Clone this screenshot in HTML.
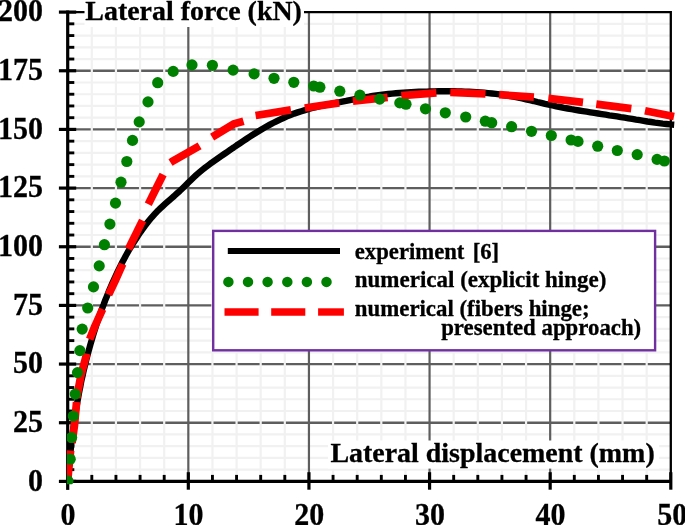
<!DOCTYPE html>
<html><head><meta charset="utf-8"><title>chart</title><style>html,body{margin:0;padding:0;background:#fff}</style></head><body>
<svg width="685" height="525" viewBox="0 0 685 525" style="display:block">
<rect x="0" y="0" width="685" height="525" fill="#fff"/>
<g stroke="#5e5e5e" stroke-width="2.3">
<line x1="67.7" x2="670.8" y1="422.74" y2="422.74"/>
<line x1="67.7" x2="670.8" y1="364.07" y2="364.07"/>
<line x1="67.7" x2="670.8" y1="305.41" y2="305.41"/>
<line x1="67.7" x2="670.8" y1="246.75" y2="246.75"/>
<line x1="67.7" x2="670.8" y1="188.09" y2="188.09"/>
<line x1="67.7" x2="670.8" y1="129.42" y2="129.42"/>
<line x1="67.7" x2="670.8" y1="70.76" y2="70.76"/>
</g>
<g stroke="#f1f1f1" stroke-width="2.2">
<line x1="67.7" x2="670.8" y1="469.67" y2="469.67"/>
<line x1="67.7" x2="670.8" y1="457.94" y2="457.94"/>
<line x1="67.7" x2="670.8" y1="446.20" y2="446.20"/>
<line x1="67.7" x2="670.8" y1="434.47" y2="434.47"/>
<line x1="67.7" x2="670.8" y1="411.00" y2="411.00"/>
<line x1="67.7" x2="670.8" y1="399.27" y2="399.27"/>
<line x1="67.7" x2="670.8" y1="387.54" y2="387.54"/>
<line x1="67.7" x2="670.8" y1="375.81" y2="375.81"/>
<line x1="67.7" x2="670.8" y1="352.34" y2="352.34"/>
<line x1="67.7" x2="670.8" y1="340.61" y2="340.61"/>
<line x1="67.7" x2="670.8" y1="328.88" y2="328.88"/>
<line x1="67.7" x2="670.8" y1="317.14" y2="317.14"/>
<line x1="67.7" x2="670.8" y1="293.68" y2="293.68"/>
<line x1="67.7" x2="670.8" y1="281.95" y2="281.95"/>
<line x1="67.7" x2="670.8" y1="270.22" y2="270.22"/>
<line x1="67.7" x2="670.8" y1="258.48" y2="258.48"/>
<line x1="67.7" x2="670.8" y1="235.02" y2="235.02"/>
<line x1="67.7" x2="670.8" y1="223.29" y2="223.29"/>
<line x1="67.7" x2="670.8" y1="211.55" y2="211.55"/>
<line x1="67.7" x2="670.8" y1="199.82" y2="199.82"/>
<line x1="67.7" x2="670.8" y1="176.36" y2="176.36"/>
<line x1="67.7" x2="670.8" y1="164.62" y2="164.62"/>
<line x1="67.7" x2="670.8" y1="152.89" y2="152.89"/>
<line x1="67.7" x2="670.8" y1="141.16" y2="141.16"/>
<line x1="67.7" x2="670.8" y1="117.69" y2="117.69"/>
<line x1="67.7" x2="670.8" y1="105.96" y2="105.96"/>
<line x1="67.7" x2="670.8" y1="94.23" y2="94.23"/>
<line x1="67.7" x2="670.8" y1="82.50" y2="82.50"/>
<line x1="67.7" x2="670.8" y1="59.03" y2="59.03"/>
<line x1="67.7" x2="670.8" y1="47.30" y2="47.30"/>
<line x1="67.7" x2="670.8" y1="35.57" y2="35.57"/>
<line x1="67.7" x2="670.8" y1="23.83" y2="23.83"/>
<line y1="481.4" y2="12.1" x1="91.82" x2="91.82"/>
<line y1="481.4" y2="12.1" x1="115.95" x2="115.95"/>
<line y1="481.4" y2="12.1" x1="140.07" x2="140.07"/>
<line y1="481.4" y2="12.1" x1="164.20" x2="164.20"/>
<line y1="481.4" y2="12.1" x1="212.44" x2="212.44"/>
<line y1="481.4" y2="12.1" x1="236.57" x2="236.57"/>
<line y1="481.4" y2="12.1" x1="260.69" x2="260.69"/>
<line y1="481.4" y2="12.1" x1="284.82" x2="284.82"/>
<line y1="481.4" y2="12.1" x1="333.06" x2="333.06"/>
<line y1="481.4" y2="12.1" x1="357.19" x2="357.19"/>
<line y1="481.4" y2="12.1" x1="381.31" x2="381.31"/>
<line y1="481.4" y2="12.1" x1="405.44" x2="405.44"/>
<line y1="481.4" y2="12.1" x1="453.68" x2="453.68"/>
<line y1="481.4" y2="12.1" x1="477.81" x2="477.81"/>
<line y1="481.4" y2="12.1" x1="501.93" x2="501.93"/>
<line y1="481.4" y2="12.1" x1="526.06" x2="526.06"/>
<line y1="481.4" y2="12.1" x1="574.30" x2="574.30"/>
<line y1="481.4" y2="12.1" x1="598.43" x2="598.43"/>
<line y1="481.4" y2="12.1" x1="622.55" x2="622.55"/>
<line y1="481.4" y2="12.1" x1="646.68" x2="646.68"/>
</g>
<g stroke="#5e5e5e" stroke-width="2.2">
<line y1="481.4" y2="12.1" x1="188.32" x2="188.32"/>
<line y1="481.4" y2="12.1" x1="308.94" x2="308.94"/>
<line y1="481.4" y2="12.1" x1="429.56" x2="429.56"/>
<line y1="481.4" y2="12.1" x1="550.18" x2="550.18"/>
</g>
<path d="M67.7 12.1 H670.8 V481.4" fill="none" stroke="#000" stroke-width="2.3"/>
<g stroke="#000">
<line x1="67.7" x2="67.7" y1="10.6" y2="482.9" stroke-width="3.2"/>
<line x1="66.2" x2="672.0" y1="481.4" y2="481.4" stroke-width="3.2"/>
<line x1="58.900000000000006" x2="76.2" y1="481.40" y2="481.40" stroke-width="3.2"/>
<line x1="67.7" x2="74.3" y1="469.67" y2="469.67" stroke-width="2.9"/>
<line x1="67.7" x2="74.3" y1="457.94" y2="457.94" stroke-width="2.9"/>
<line x1="67.7" x2="74.3" y1="446.20" y2="446.20" stroke-width="2.9"/>
<line x1="67.7" x2="74.3" y1="434.47" y2="434.47" stroke-width="2.9"/>
<line x1="58.900000000000006" x2="76.2" y1="422.74" y2="422.74" stroke-width="3.2"/>
<line x1="67.7" x2="74.3" y1="411.00" y2="411.00" stroke-width="2.9"/>
<line x1="67.7" x2="74.3" y1="399.27" y2="399.27" stroke-width="2.9"/>
<line x1="67.7" x2="74.3" y1="387.54" y2="387.54" stroke-width="2.9"/>
<line x1="67.7" x2="74.3" y1="375.81" y2="375.81" stroke-width="2.9"/>
<line x1="58.900000000000006" x2="76.2" y1="364.07" y2="364.07" stroke-width="3.2"/>
<line x1="67.7" x2="74.3" y1="352.34" y2="352.34" stroke-width="2.9"/>
<line x1="67.7" x2="74.3" y1="340.61" y2="340.61" stroke-width="2.9"/>
<line x1="67.7" x2="74.3" y1="328.88" y2="328.88" stroke-width="2.9"/>
<line x1="67.7" x2="74.3" y1="317.14" y2="317.14" stroke-width="2.9"/>
<line x1="58.900000000000006" x2="76.2" y1="305.41" y2="305.41" stroke-width="3.2"/>
<line x1="67.7" x2="74.3" y1="293.68" y2="293.68" stroke-width="2.9"/>
<line x1="67.7" x2="74.3" y1="281.95" y2="281.95" stroke-width="2.9"/>
<line x1="67.7" x2="74.3" y1="270.22" y2="270.22" stroke-width="2.9"/>
<line x1="67.7" x2="74.3" y1="258.48" y2="258.48" stroke-width="2.9"/>
<line x1="58.900000000000006" x2="76.2" y1="246.75" y2="246.75" stroke-width="3.2"/>
<line x1="67.7" x2="74.3" y1="235.02" y2="235.02" stroke-width="2.9"/>
<line x1="67.7" x2="74.3" y1="223.29" y2="223.29" stroke-width="2.9"/>
<line x1="67.7" x2="74.3" y1="211.55" y2="211.55" stroke-width="2.9"/>
<line x1="67.7" x2="74.3" y1="199.82" y2="199.82" stroke-width="2.9"/>
<line x1="58.900000000000006" x2="76.2" y1="188.09" y2="188.09" stroke-width="3.2"/>
<line x1="67.7" x2="74.3" y1="176.36" y2="176.36" stroke-width="2.9"/>
<line x1="67.7" x2="74.3" y1="164.62" y2="164.62" stroke-width="2.9"/>
<line x1="67.7" x2="74.3" y1="152.89" y2="152.89" stroke-width="2.9"/>
<line x1="67.7" x2="74.3" y1="141.16" y2="141.16" stroke-width="2.9"/>
<line x1="58.900000000000006" x2="76.2" y1="129.42" y2="129.42" stroke-width="3.2"/>
<line x1="67.7" x2="74.3" y1="117.69" y2="117.69" stroke-width="2.9"/>
<line x1="67.7" x2="74.3" y1="105.96" y2="105.96" stroke-width="2.9"/>
<line x1="67.7" x2="74.3" y1="94.23" y2="94.23" stroke-width="2.9"/>
<line x1="67.7" x2="74.3" y1="82.50" y2="82.50" stroke-width="2.9"/>
<line x1="58.900000000000006" x2="76.2" y1="70.76" y2="70.76" stroke-width="3.2"/>
<line x1="67.7" x2="74.3" y1="59.03" y2="59.03" stroke-width="2.9"/>
<line x1="67.7" x2="74.3" y1="47.30" y2="47.30" stroke-width="2.9"/>
<line x1="67.7" x2="74.3" y1="35.57" y2="35.57" stroke-width="2.9"/>
<line x1="67.7" x2="74.3" y1="23.83" y2="23.83" stroke-width="2.9"/>
<line x1="58.900000000000006" x2="76.2" y1="12.10" y2="12.10" stroke-width="3.2"/>
<line y1="481.4" y2="474.9" x1="91.82" x2="91.82" stroke-width="2.9"/>
<line y1="481.4" y2="474.9" x1="115.95" x2="115.95" stroke-width="2.9"/>
<line y1="481.4" y2="474.9" x1="140.07" x2="140.07" stroke-width="2.9"/>
<line y1="481.4" y2="474.9" x1="164.20" x2="164.20" stroke-width="2.9"/>
<line y1="472.2" y2="489.7" x1="188.32" x2="188.32" stroke-width="3.2"/>
<line y1="481.4" y2="474.9" x1="212.44" x2="212.44" stroke-width="2.9"/>
<line y1="481.4" y2="474.9" x1="236.57" x2="236.57" stroke-width="2.9"/>
<line y1="481.4" y2="474.9" x1="260.69" x2="260.69" stroke-width="2.9"/>
<line y1="481.4" y2="474.9" x1="284.82" x2="284.82" stroke-width="2.9"/>
<line y1="472.2" y2="489.7" x1="308.94" x2="308.94" stroke-width="3.2"/>
<line y1="481.4" y2="474.9" x1="333.06" x2="333.06" stroke-width="2.9"/>
<line y1="481.4" y2="474.9" x1="357.19" x2="357.19" stroke-width="2.9"/>
<line y1="481.4" y2="474.9" x1="381.31" x2="381.31" stroke-width="2.9"/>
<line y1="481.4" y2="474.9" x1="405.44" x2="405.44" stroke-width="2.9"/>
<line y1="472.2" y2="489.7" x1="429.56" x2="429.56" stroke-width="3.2"/>
<line y1="481.4" y2="474.9" x1="453.68" x2="453.68" stroke-width="2.9"/>
<line y1="481.4" y2="474.9" x1="477.81" x2="477.81" stroke-width="2.9"/>
<line y1="481.4" y2="474.9" x1="501.93" x2="501.93" stroke-width="2.9"/>
<line y1="481.4" y2="474.9" x1="526.06" x2="526.06" stroke-width="2.9"/>
<line y1="472.2" y2="489.7" x1="550.18" x2="550.18" stroke-width="3.2"/>
<line y1="481.4" y2="474.9" x1="574.30" x2="574.30" stroke-width="2.9"/>
<line y1="481.4" y2="474.9" x1="598.43" x2="598.43" stroke-width="2.9"/>
<line y1="481.4" y2="474.9" x1="622.55" x2="622.55" stroke-width="2.9"/>
<line y1="481.4" y2="474.9" x1="646.68" x2="646.68" stroke-width="2.9"/>
<line y1="472.2" y2="489.7" x1="670.80" x2="670.80" stroke-width="3.2"/>
<line y1="481.4" y2="489.9" x1="67.7" x2="67.7" stroke-width="3.2"/>
</g>
<clipPath id="pc"><rect x="67.0" y="0" width="630" height="484.2"/></clipPath>
<g clip-path="url(#pc)">
<path d="M67.7 481.4 L68.0 477.6 L68.3 473.7 L68.7 469.9 L69.0 466.0 L69.4 462.2 L69.7 458.3 L70.1 454.5 L70.6 450.7 L71.0 446.8 L71.4 443.0 L71.9 439.2 L72.4 435.4 L72.9 431.5 L73.4 427.7 L73.9 423.9 L74.5 420.1 L75.0 416.3 L75.6 412.5 L76.2 408.7 L76.9 404.9 L77.5 401.1 L78.2 397.3 L78.9 393.5 L79.6 389.8 L80.4 386.0 L81.1 382.2 L81.9 378.4 L82.8 374.7 L83.6 370.9 L84.5 367.2 L85.4 363.4 L86.3 359.7 L87.3 356.0 L88.3 352.2 L89.3 348.5 L90.3 344.8 L91.4 341.1 L92.5 337.4 L93.6 333.7 L94.7 330.0 L95.9 326.3 L97.1 322.6 L98.4 319.0 L99.7 315.3 L101.0 311.7 L102.3 308.0 L103.7 304.4 L105.0 300.8 L106.5 297.2 L107.9 293.7 L109.4 290.1 L110.9 286.6 L112.4 283.0 L114.0 279.5 L115.6 276.0 L117.2 272.6 L118.9 269.1 L120.6 265.7 L122.3 262.3 L124.1 258.9 L125.9 255.5 L127.8 252.2 L129.7 248.8 L131.7 245.5 L133.8 242.3 L135.9 239.0 L138.0 235.8 L140.1 232.6 L142.4 229.4 L144.6 226.3 L146.9 223.3 L149.3 220.3 L151.8 217.3 L154.4 214.4 L157.0 211.6 L159.7 208.9 L162.5 206.3 L165.4 203.7 L168.3 201.1 L171.2 198.6 L174.2 196.0 L177.0 193.4 L179.9 190.8 L182.6 188.2 L185.4 185.5 L188.1 182.8 L190.8 180.2 L193.6 177.5 L196.4 174.9 L199.3 172.4 L202.3 169.9 L205.3 167.5 L208.4 165.2 L211.5 162.8 L214.7 160.6 L217.9 158.3 L221.1 156.1 L224.2 154.0 L227.4 151.8 L230.5 149.6 L233.7 147.5 L236.8 145.3 L240.0 143.2 L243.1 141.1 L246.3 139.0 L249.5 136.9 L252.8 134.8 L256.1 132.7 L259.4 130.7 L262.7 128.7 L266.1 126.8 L269.5 124.9 L273.0 123.0 L276.4 121.3 L279.9 119.6 L283.4 118.0 L287.0 116.4 L290.5 115.0 L294.1 113.6 L297.7 112.4 L301.4 111.2 L305.0 110.1 L308.7 109.0 L312.4 108.0 L316.1 107.1 L319.8 106.2 L323.5 105.4 L327.2 104.6 L331.0 103.8 L334.8 103.1 L338.5 102.3 L342.3 101.6 L346.1 100.9 L349.9 100.1 L353.7 99.4 L357.5 98.7 L361.3 98.0 L365.1 97.3 L369.0 96.7 L372.8 96.0 L376.6 95.4 L380.5 94.9 L384.3 94.4 L388.2 94.0 L392.0 93.6 L395.9 93.3 L399.7 93.0 L403.6 92.7 L407.4 92.4 L411.3 92.2 L415.1 92.0 L419.0 91.8 L422.8 91.7 L426.7 91.6 L430.5 91.4 L434.4 91.4 L438.3 91.3 L442.1 91.3 L445.9 91.3 L449.8 91.3 L453.6 91.3 L457.5 91.4 L461.3 91.5 L465.1 91.6 L469.0 91.8 L472.8 92.0 L476.6 92.2 L480.4 92.5 L484.2 92.8 L488.0 93.1 L491.9 93.5 L495.7 93.9 L499.5 94.4 L503.3 95.0 L507.1 95.5 L510.9 96.2 L514.7 96.9 L518.5 97.6 L522.2 98.4 L526.0 99.3 L529.8 100.2 L533.6 101.0 L537.4 102.0 L541.2 102.9 L545.0 103.8 L548.8 104.6 L552.6 105.5 L556.3 106.3 L560.1 107.0 L563.9 107.8 L567.7 108.5 L571.5 109.2 L575.3 109.8 L579.1 110.5 L582.8 111.1 L586.6 111.7 L590.4 112.3 L594.2 112.9 L598.0 113.5 L601.8 114.1 L605.6 114.7 L609.4 115.3 L613.2 115.8 L617.0 116.4 L620.8 117.1 L624.6 117.7 L628.4 118.3 L632.2 118.9 L636.0 119.6 L639.8 120.2 L643.6 120.8 L647.4 121.5 L651.2 122.0 L655.0 122.6 L658.9 123.1 L662.7 123.6 L666.5 124.0 L670.4 124.4 L674.2 124.7" fill="none" stroke="#000" stroke-width="6.4" stroke-linejoin="round"/>
<g fill="none" stroke="#f00" stroke-width="7.8" stroke-linejoin="round">
<path d="M67.7 481.4 L68.6 470.0 L70.6 450.6"/>
<path d="M72.0 442.9 L74.5 425.0 L76.6 402.0"/>
<path d="M76.9 398.2 L77.1 396.0 L81.0 375.0 L86.3 355.5 L86.7 353.6"/>
<path d="M89.7 339.2 L95.0 326.0 L102.6 309.2"/>
<path d="M108.6 294.6 L115.5 280.0 L122.7 264.0"/>
<path d="M128.5 248.9 L142.6 220.4"/>
<path d="M148.3 204.3 L163.1 174.6"/>
<path d="M170.5 162.5 L171.8 161.7 L199.1 146.1 L199.6 145.8"/>
<path d="M212.1 137.1 L233.5 124.1 L243.5 121.2"/>
<path d="M255.6 115.5 L290.9 109.9"/>
<path d="M304.8 108.0 L339.2 102.9"/>
<path d="M352.9 101.2 L387.6 97.3"/>
<path d="M401.3 95.6 L436.4 92.9"/>
<path d="M450.3 92.4 L485.5 93.9"/>
<path d="M499.2 94.7 L533.9 97.1"/>
<path d="M548.3 98.4 L583.0 102.3"/>
<path d="M596.3 104.1 L631.3 108.7"/>
<path d="M645.0 110.7 L674.0 116.5"/>
</g>
<g fill="#008000">
<circle cx="67.9" cy="480.9" r="5.6"/>
<circle cx="70.2" cy="459.2" r="5.6"/>
<circle cx="71.6" cy="437.5" r="5.6"/>
<circle cx="73.3" cy="416.0" r="5.6"/>
<circle cx="75.2" cy="394.1" r="5.6"/>
<circle cx="77.5" cy="372.6" r="5.6"/>
<circle cx="79.9" cy="350.6" r="5.6"/>
<circle cx="82.2" cy="329.1" r="5.6"/>
<circle cx="87.7" cy="308" r="5.6"/>
<circle cx="93.5" cy="286.9" r="5.6"/>
<circle cx="99.2" cy="265.9" r="5.6"/>
<circle cx="104.4" cy="244.7" r="5.6"/>
<circle cx="109.9" cy="224.1" r="5.6"/>
<circle cx="115.5" cy="203.1" r="5.6"/>
<circle cx="121" cy="182.2" r="5.6"/>
<circle cx="126.8" cy="161.5" r="5.6"/>
<circle cx="132.5" cy="140.4" r="5.6"/>
<circle cx="139.2" cy="121.9" r="5.6"/>
<circle cx="148" cy="101.9" r="5.6"/>
<circle cx="157.7" cy="82.7" r="5.6"/>
<circle cx="173.2" cy="71.4" r="5.6"/>
<circle cx="192" cy="64.9" r="5.6"/>
<circle cx="212.4" cy="65.3" r="5.6"/>
<circle cx="233.1" cy="70.1" r="5.6"/>
<circle cx="254.1" cy="73.9" r="5.6"/>
<circle cx="274" cy="78.3" r="5.6"/>
<circle cx="293.8" cy="82.3" r="5.6"/>
<circle cx="313.7" cy="86" r="5.6"/>
<circle cx="319.9" cy="87.2" r="5.6"/>
<circle cx="339.8" cy="91.2" r="5.6"/>
<circle cx="359.9" cy="95.2" r="5.6"/>
<circle cx="379.7" cy="99.1" r="5.6"/>
<circle cx="399.8" cy="102.9" r="5.6"/>
<circle cx="406" cy="104.2" r="5.6"/>
<circle cx="425.5" cy="108.8" r="5.6"/>
<circle cx="445.3" cy="112.8" r="5.6"/>
<circle cx="465.7" cy="117" r="5.6"/>
<circle cx="485.3" cy="121.2" r="5.6"/>
<circle cx="491.7" cy="122.7" r="5.6"/>
<circle cx="511.6" cy="126.7" r="5.6"/>
<circle cx="531.5" cy="131.3" r="5.6"/>
<circle cx="551.3" cy="135.5" r="5.6"/>
<circle cx="571.1" cy="140" r="5.6"/>
<circle cx="578" cy="141.4" r="5.6"/>
<circle cx="597.7" cy="146.2" r="5.6"/>
<circle cx="617.3" cy="150.5" r="5.6"/>
<circle cx="637.2" cy="154.6" r="5.6"/>
<circle cx="657.1" cy="159.4" r="5.6"/>
<circle cx="664.4" cy="161" r="5.6"/>
</g>
</g>
<rect x="213.2" y="230.9" width="441.9" height="119.4" fill="#fff" stroke="#7030a0" stroke-width="2.4"/>
<line x1="227.8" x2="340" y1="251" y2="251" stroke="#000" stroke-width="6.2"/>
<g fill="#008000">
<circle cx="228.4" cy="281.9" r="5.25"/>
<circle cx="248.0" cy="281.9" r="5.25"/>
<circle cx="267.6" cy="281.9" r="5.25"/>
<circle cx="287.3" cy="281.9" r="5.25"/>
<circle cx="306.9" cy="281.9" r="5.25"/>
<circle cx="326.5" cy="281.9" r="5.25"/>
</g>
<g stroke="#f00" stroke-width="7.4">
<line x1="224.5" x2="258.6" y1="312" y2="312"/>
<line x1="271.2" x2="305.3" y1="312" y2="312"/>
<line x1="318.1" x2="343.9" y1="312" y2="312"/>
</g>
<rect x="84.5" y="0" width="219.5" height="27" fill="#fff"/>
<rect x="328" y="440.5" width="331" height="28.1" fill="#fff"/>
<g font-family="Liberation Serif, Times New Roman, serif" font-weight="bold" fill="#000" stroke="#000" stroke-width="0.3">
<text x="85.3" y="19.8" font-size="27.9" textLength="216.6" lengthAdjust="spacingAndGlyphs">Lateral force (kN)</text>
<text x="330.4" y="462.1" font-size="27.9" textLength="324.3" lengthAdjust="spacingAndGlyphs">Lateral displacement (mm)</text>
<g font-size="22.7">
<text x="354.8" y="258.7">experiment<tspan dx="8.2">[6]</tspan></text>
<text x="354.8" y="286.7" textLength="251.6" lengthAdjust="spacingAndGlyphs">numerical (explicit hinge)</text>
<text x="354.8" y="316.1" textLength="234.8" lengthAdjust="spacingAndGlyphs">numerical (fibers hinge;</text>
<text x="441.2" y="335.2" textLength="200" lengthAdjust="spacingAndGlyphs">presented approach)</text>
</g>
<g font-size="30" text-anchor="end">
<text transform="translate(43.1,490.6) scale(1,1.035)">0</text>
<text transform="translate(43.1,431.9) scale(1,1.035)">25</text>
<text transform="translate(43.1,373.3) scale(1,1.035)">50</text>
<text transform="translate(43.1,314.6) scale(1,1.035)">75</text>
<text transform="translate(43.1,255.9) scale(1,1.035)">100</text>
<text transform="translate(43.1,197.3) scale(1,1.035)">125</text>
<text transform="translate(43.1,138.6) scale(1,1.035)">150</text>
<text transform="translate(43.1,80.0) scale(1,1.035)">175</text>
<text transform="translate(43.1,21.3) scale(1,1.035)">200</text>
</g>
<g font-size="30" text-anchor="middle">
<text transform="translate(68.0,525.1) scale(1,1.035)">0</text>
<text transform="translate(188.6,525.1) scale(1,1.035)">10</text>
<text transform="translate(309.2,525.1) scale(1,1.035)">20</text>
<text transform="translate(429.9,525.1) scale(1,1.035)">30</text>
<text transform="translate(550.5,525.1) scale(1,1.035)">40</text>
<text transform="translate(672.2,525.1) scale(1,1.035)">50</text>
</g>
</g>
</svg>
</body></html>
